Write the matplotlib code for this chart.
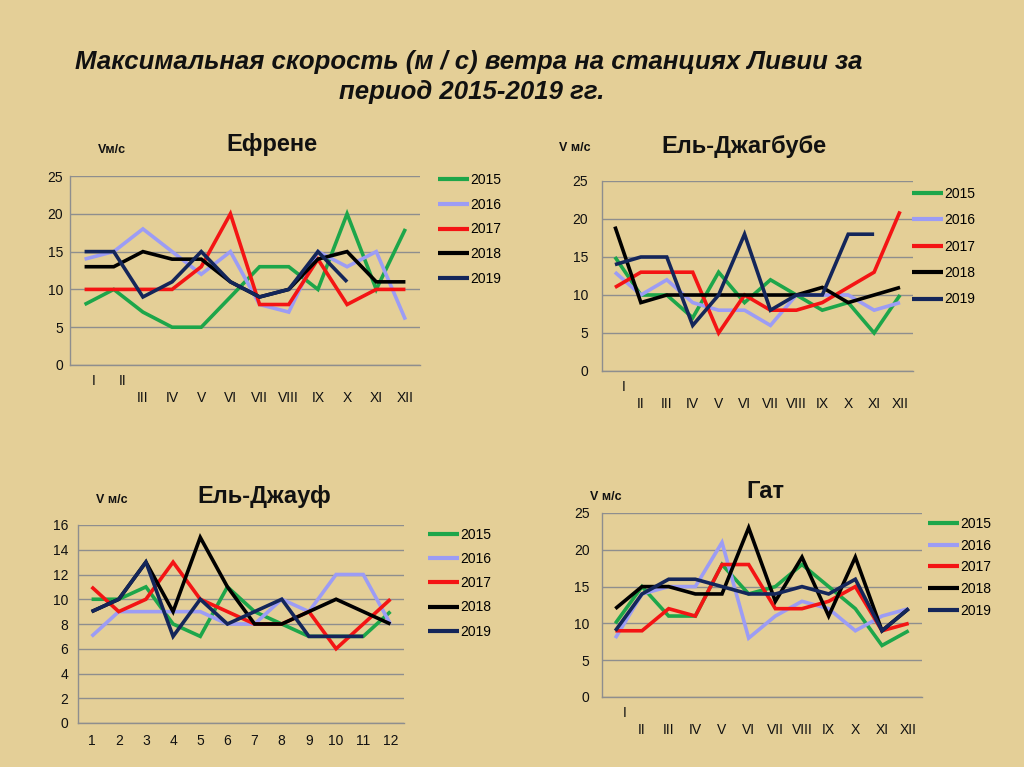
import numpy as np
import matplotlib
matplotlib.use("Agg")
import matplotlib.pyplot as plt
from matplotlib.transforms import ScaledTranslation

nan = np.nan

# ---------------- data ----------------
years = ["2015", "2016", "2017", "2018", "2019"]
roman = ["I", "II", "III", "IV", "V", "VI", "VII", "VIII", "IX", "X", "XI", "XII"]
arabic = [str(i) for i in range(1, 13)]

efrene_2015 = [8, 10, 7, 5, 5, 9, 13, 13, 10, 20, 10, 18]
efrene_2016 = [14, 15, 18, 15, 12, 15, 8, 7, 15, 13, 15, 6]
efrene_2017 = [10, 10, 10, 10, 13, 20, 8, 8, 14, 8, 10, 10]
efrene_2018 = [13, 13, 15, 14, 14, 11, 9, 10, 14, 15, 11, 11]
efrene_2019 = [15, 15, 9, 11, 15, 11, 9, 10, 15, 11, nan, nan]

jagbub_2015 = [15, 10, 10, 7, 13, 9, 12, 10, 8, 9, 5, 10]
jagbub_2016 = [13, 10, 12, 9, 8, 8, 6, 10, 10, 10, 8, 9]
jagbub_2017 = [11, 13, 13, 13, 5, 10, 8, 8, 9, 11, 13, 21]
jagbub_2018 = [19, 9, 10, 10, 10, 10, 10, 10, 11, 9, 10, 11]
jagbub_2019 = [14, 15, 15, 6, 10, 18, 8, 10, 10, 18, 18, nan]

jauf_2015 = [10, 10, 11, 8, 7, 11, 9, 8, 7, 7, 7, 9]
jauf_2016 = [7, 9, 9, 9, 9, 8, 8, 10, 9, 12, 12, 8]
jauf_2017 = [11, 9, 10, 13, 10, 9, 8, 8, 9, 6, 8, 10]
jauf_2018 = [9, 10, 13, 9, 15, 11, 8, 8, 9, 10, 9, 8]
jauf_2019 = [9, 10, 13, 7, 10, 8, 9, 10, 7, 7, 7, nan]

gat_2015 = [10, 15, 11, 11, 18, 14, 15, 18, 15, 12, 7, 9]
gat_2016 = [8, 14, 15, 15, 21, 8, 11, 13, 12, 9, 11, 12]
gat_2017 = [9, 9, 12, 11, 18, 18, 12, 12, 13, 15, 9, 10]
gat_2018 = [12, 15, 15, 14, 14, 23, 13, 19, 11, 19, 9, 12]
gat_2019 = [9, 14, 16, 16, 15, 14, 14, 15, 14, 16, 9, 12]

title_line1 = "Максимальная скорость (м / с) ветра на станциях Ливии за"
title_line2 = "период 2015-2019 гг."

# ---------------- style ----------------
colors = ["#1DA64A", "#9C9CF5", "#F41414", "#000000", "#14265A"]
bg = "#E4CF97"
grid_c = "#8E8E8E"

W, H = 1024, 767
fig = plt.figure(figsize=(W / 100, H / 100), dpi=100, facecolor=bg)

def px(x, y):
    return x / W, 1 - y / H

panels = [
    dict(name="Ефрене", rect=(70, 176, 420, 365), series=[efrene_2015, efrene_2016, efrene_2017, efrene_2018, efrene_2019],
         labels=roman, high=[0, 1], ylim=25, ystep=5, title_xy=(272, 145), vlab="Vм/с", vlab_xy=(112, 150),
         leg_xy=(438, 173), leg_ls=0.77, ypad=5),
    dict(name="Ель-Джагбубе", rect=(602, 181, 913, 371), series=[jagbub_2015, jagbub_2016, jagbub_2017, jagbub_2018, jagbub_2019],
         labels=roman, high=[0], ylim=25, ystep=5, title_xy=(744, 146), vlab="V м/с", vlab_xy=(575, 148),
         leg_xy=(912, 187), leg_ls=0.89, ypad=10),
    dict(name="Ель-Джауф", rect=(78, 525, 404, 723), series=[jauf_2015, jauf_2016, jauf_2017, jauf_2018, jauf_2019],
         labels=arabic, high=None, ylim=16, ystep=2, title_xy=(264, 497), vlab="V м/с", vlab_xy=(112, 500),
         leg_xy=(428, 528), leg_ls=0.73, ypad=7),
    dict(name="Гат", rect=(602, 513, 922, 697), series=[gat_2015, gat_2016, gat_2017, gat_2018, gat_2019],
         labels=roman, high=[0], ylim=25, ystep=5, title_xy=(765, 491), vlab="V м/с", vlab_xy=(606, 497),
         leg_xy=(928, 517), leg_ls=0.55, ypad=9),
]

font_main = ["Liberation Sans", "DejaVu Sans"]

for p in panels:
    x0, y0, x1, y1 = p["rect"]
    l, t = px(x0, y0)
    r, b = px(x1, y1)
    ax = fig.add_axes([l, b, r - l, t - b])
    ax.set_facecolor("none")
    months = np.arange(1, 13)
    for ser, yr, c in zip(p["series"], years, colors):
        ax.plot(months, np.array(ser, dtype=float), color=c, lw=2.6, label=yr,
                solid_joinstyle="miter", solid_capstyle="butt")
    ax.set_xlim(0.5, 12.5)
    ax.set_ylim(0, p["ylim"])
    ax.set_yticks(np.arange(0, p["ylim"] + 0.1, p["ystep"]))
    ax.yaxis.grid(True, color=grid_c, lw=1.0)
    ax.set_axisbelow(True)
    for s in ["top", "right"]:
        ax.spines[s].set_visible(False)
    for s in ["left", "bottom"]:
        ax.spines[s].set_color(grid_c)
        ax.spines[s].set_linewidth(1.0)
    ax.tick_params(axis="both", length=0, labelsize=10, colors="#111111")
    ax.tick_params(axis="y", pad=p["ypad"])
    ax.set_xticks(months)
    ax.set_xticklabels(p["labels"], fontfamily=font_main)
    for lab in ax.get_yticklabels():
        lab.set_fontfamily(font_main)
    ticks = ax.xaxis.get_major_ticks()
    if p["high"] is None:
        for tk in ticks:
            tk.set_pad(8)
    else:
        for i, tk in enumerate(ticks):
            if i in p["high"]:
                tk.set_pad(6.5)
            else:
                tk.set_pad(19)
        for i, lab in enumerate(ax.get_xticklabels()):
            if i in p["high"]:
                lab.set_transform(lab.get_transform() + ScaledTranslation(9 / 100, 0, fig.dpi_scale_trans))
    # titles
    tx, ty = px(*p["title_xy"])
    fig.text(tx, ty, p["name"], ha="center", va="center", fontsize=17, fontweight="bold",
             fontfamily=font_main, color="#111111")
    vx, vy = px(*p["vlab_xy"])
    fig.text(vx, vy, p["vlab"], ha="center", va="center", fontsize=9, fontweight="bold",
             fontfamily=font_main, color="#111111")
    lx, ly = px(*p["leg_xy"])
    leg = ax.legend(loc="upper left", bbox_to_anchor=(lx, ly), bbox_transform=fig.transFigure,
                    frameon=False, handlelength=2.2, handletextpad=0.15,
                    labelspacing=p["leg_ls"], borderpad=0, borderaxespad=0,
                    prop=dict(family=font_main, size=10))
    for ln in leg.get_lines():
        ln.set_linewidth(3.0)

# main title
title_font = ["Liberation Sans", "DejaVu Sans"]
x, y = px(469, 62)
fig.text(x, y, title_line1, ha="center", va="center", fontsize=18.5, fontweight="bold",
         fontstyle="italic", fontfamily=title_font, color="#111111")
x, y = px(472, 92)
fig.text(x, y, title_line2, ha="center", va="center", fontsize=18.5, fontweight="bold",
         fontstyle="italic", fontfamily=title_font, color="#111111")

fig.savefig("out.png", dpi=100, facecolor=bg)
